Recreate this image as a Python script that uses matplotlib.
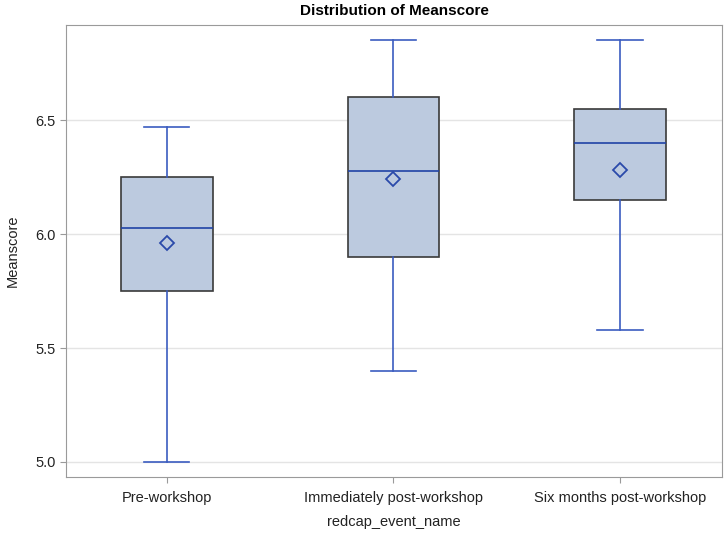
import matplotlib
matplotlib.use("Agg")
from matplotlib import pyplot as plt

plt.rcParams['font.family'] = ['Liberation Sans', 'DejaVu Sans']

# summary statistics
events = ['Pre-workshop', 'Immediately post-workshop', 'Six months post-workshop']
mins = [5.0, 5.4, 5.58]
q1s = [5.75, 5.9, 6.15]
medians = [6.025, 6.275, 6.4]
means = [5.96, 6.24, 6.28]
q3s = [6.25, 6.6, 6.55]
maxs = [6.47, 6.85, 6.85]


def main():
    stats = []
    for i, name in enumerate(events):
        stats.append({'label': name, 'whislo': mins[i], 'q1': q1s[i], 'med': medians[i],
                      'mean': means[i], 'q3': q3s[i], 'whishi': maxs[i], 'fliers': []})

    fig = plt.figure(figsize=(7.25, 5.34), dpi=100)
    ax = fig.add_axes([0.091, 0.1067, 0.905, 0.8463])

    ax.bxp(stats, positions=[0, 1, 2], widths=0.405, patch_artist=True, showmeans=True,
           showfliers=False,
           boxprops=dict(facecolor='#bccadf', edgecolor='#3a3a3a', linewidth=1.2),
           whiskerprops=dict(color='#3b5cc0', linewidth=1.2),
           capprops=dict(color='#3b5cc0', linewidth=1.2),
           capwidths=0.2,
           medianprops=dict(color='#2143a6', linewidth=1.2),
           meanprops=dict(marker='D', markerfacecolor='none', markeredgecolor='#2a4aaa',
                          markersize=7, markeredgewidth=1.3))

    ax.set_xlim(-0.445, 2.45)
    ax.set_ylim(4.934, 6.917)
    ax.set_yticks([5.0, 5.5, 6.0, 6.5])
    ax.set_yticklabels(['5.0', '5.5', '6.0', '6.5'])
    ax.yaxis.grid(True, color='#e4e4e4', linewidth=1)
    ax.set_axisbelow(True)
    for sp in ax.spines.values():
        sp.set_color('#9a9a9a')
    ax.tick_params(colors='#9a9a9a', labelcolor='#222222', labelsize=10.5, length=4)
    ax.tick_params(axis='x', pad=6)

    ax.set_xlabel('redcap_event_name', fontsize=10.5, color='#222222', labelpad=7)
    ax.set_ylabel('Meanscore', fontsize=10.5, color='#222222', labelpad=11)
    ax.set_title('Distribution of Meanscore', fontsize=11, fontweight='bold', pad=7)

    fig.savefig('out.png', dpi=100)


if __name__ == '__main__':
    main()
